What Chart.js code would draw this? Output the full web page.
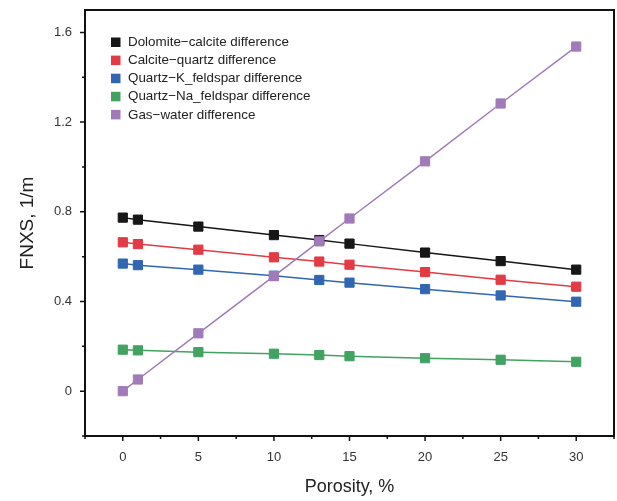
<!DOCTYPE html>
<html>
<head>
<meta charset="utf-8">
<title>FNXS vs porosity</title>
<script src="https://cdn.jsdelivr.net/npm/chart.js@4/dist/chart.umd.min.js"></script>
<style>
  html, body { margin: 0; padding: 0; background: #fff; }
  #wrap { width: 617px; height: 501px; }
</style>
</head>
<body>
<div id="wrap"><canvas id="fnxsChart" width="617" height="501"></canvas></div>
<script>
// Porosity (%) on x, FNXS (1/m) on y
const porosity = [0, 1, 5, 10, 13, 15, 20, 25, 30];
const dolomiteCalcite = [0.774, 0.765, 0.734, 0.696, 0.674, 0.658, 0.618, 0.580, 0.542];
const calciteQuartz = [0.664, 0.656, 0.631, 0.597, 0.578, 0.564, 0.531, 0.497, 0.466];
const quartzKFeldspar = [0.569, 0.562, 0.542, 0.515, 0.496, 0.484, 0.455, 0.427, 0.399];
const quartzNaFeldspar = [0.185, 0.182, 0.174, 0.167, 0.161, 0.156, 0.147, 0.140, 0.131];
const gasWater = [0, 0.052, 0.258, 0.513, 0.668, 0.770, 1.025, 1.283, 1.537];

const seriesNames = [
  'Dolomite\u2212calcite difference',
  'Calcite\u2212quartz difference',
  'Quartz\u2212K_feldspar difference',
  'Quartz\u2212Na_feldspar difference',
  'Gas\u2212water difference'
];
const seriesColors = ['#161616', '#e33a44', '#3266b2', '#41a262', '#a07bb7'];

const xMajorTicks = [0, 5, 10, 15, 20, 25, 30];
const xMinorTicks = [-2.5, 2.5, 7.5, 12.5, 17.5, 22.5, 27.5, 32.5];
const yMajorTicks = [0, 0.4, 0.8, 1.2, 1.6];
const yMajorLabels = ['0', '0.4', '0.8', '1.2', '1.6'];
const yMinorTicks = [-0.2, 0.2, 0.6, 1.0, 1.4];

const FONT = '"Liberation Sans", Arial, sans-serif';

function toPoints(values) {
  return porosity.map((p, i) => ({ x: p, y: values[i] }));
}

const allSeries = [dolomiteCalcite, calciteQuartz, quartzKFeldspar, quartzNaFeldspar, gasWater];

const datasets = allSeries.map((values, i) => ({
  label: seriesNames[i],
  data: toPoints(values),
  borderColor: seriesColors[i],
  backgroundColor: seriesColors[i],
  pointBackgroundColor: seriesColors[i],
  pointBorderColor: seriesColors[i],
  pointStyle: 'rect',
  pointRadius: 6.5,
  pointBorderWidth: 1,
  borderWidth: 1.5,
  showLine: true,
  tension: 0,
  order: allSeries.length - i
}));

// box frame, outward tick marks and the inline legend
const framePlugin = {
  id: 'frame',
  afterDraw(chart) {
    const { ctx, chartArea: a, scales } = chart;
    ctx.save();
    ctx.strokeStyle = '#111';
    ctx.lineWidth = 2;
    ctx.strokeRect(a.left, a.top, a.right - a.left, a.bottom - a.top);

    ctx.lineWidth = 1.5;
    ctx.beginPath();
    const xTick = (v, len) => {
      const px = scales.x.getPixelForValue(v);
      ctx.moveTo(px, a.bottom);
      ctx.lineTo(px, a.bottom + len);
    };
    const yTick = (v, len) => {
      const py = scales.y.getPixelForValue(v);
      ctx.moveTo(a.left, py);
      ctx.lineTo(a.left - len, py);
    };
    xMajorTicks.forEach(v => xTick(v, 5));
    xMinorTicks.forEach(v => xTick(v, 3));
    yMajorTicks.forEach(v => yTick(v, 5));
    yMinorTicks.forEach(v => yTick(v, 3));
    ctx.stroke();

    // legend
    ctx.font = '13.4px ' + FONT;
    ctx.textBaseline = 'middle';
    ctx.textAlign = 'left';
    chart.data.datasets.forEach((ds, i) => {
      const cy = 42 + i * 18.1;
      ctx.fillStyle = ds.backgroundColor;
      ctx.fillRect(111, cy - 4.5, 9.5, 9.5);
      ctx.fillStyle = '#222';
      ctx.fillText(ds.label, 128, cy + 0.5);
    });
    ctx.restore();
  }
};

new Chart(document.getElementById('fnxsChart'), {
  type: 'scatter',
  data: { datasets },
  options: {
    responsive: false,
    animation: false,
    layout: { autoPadding: false, padding: { top: 10, right: 3, left: 0, bottom: 0 } },
    plugins: {
      legend: { display: false },
      tooltip: { enabled: false }
    },
    scales: {
      x: {
        type: 'linear',
        min: -2.5,
        max: 32.5,
        afterBuildTicks: axis => { axis.ticks = xMajorTicks.map(v => ({ value: v })); },
        afterFit: axis => {
          axis.height = 65;
          axis.paddingLeft = 0;
          axis.paddingRight = 0;
        },
        grid: { display: false, drawTicks: false },
        border: { display: false },
        ticks: {
          padding: 14,
          color: '#333',
          font: { family: FONT, size: 13 },
          maxRotation: 0,
          callback: v => String(v)
        },
        title: {
          display: true,
          text: 'Porosity, %',
          color: '#222',
          font: { family: FONT, size: 18 },
          padding: { top: 0, bottom: 3 }
        }
      },
      y: {
        type: 'linear',
        min: -0.2,
        max: 1.7,
        afterBuildTicks: axis => { axis.ticks = yMajorTicks.map(v => ({ value: v })); },
        afterFit: axis => {
          axis.width = 85;
          axis.paddingTop = 0;
          axis.paddingBottom = 0;
        },
        grid: { display: false, drawTicks: false },
        border: { display: false },
        ticks: {
          padding: 13,
          color: '#333',
          font: { family: FONT, size: 13 },
          callback: v => yMajorLabels[yMajorTicks.indexOf(v)]
        },
        title: {
          display: true,
          text: 'FNXS, 1/m',
          color: '#222',
          font: { family: FONT, size: 19 },
          padding: { top: 16, bottom: 0 }
        }
      }
    }
  },
  plugins: [framePlugin]
});
</script>
</body>
</html>
